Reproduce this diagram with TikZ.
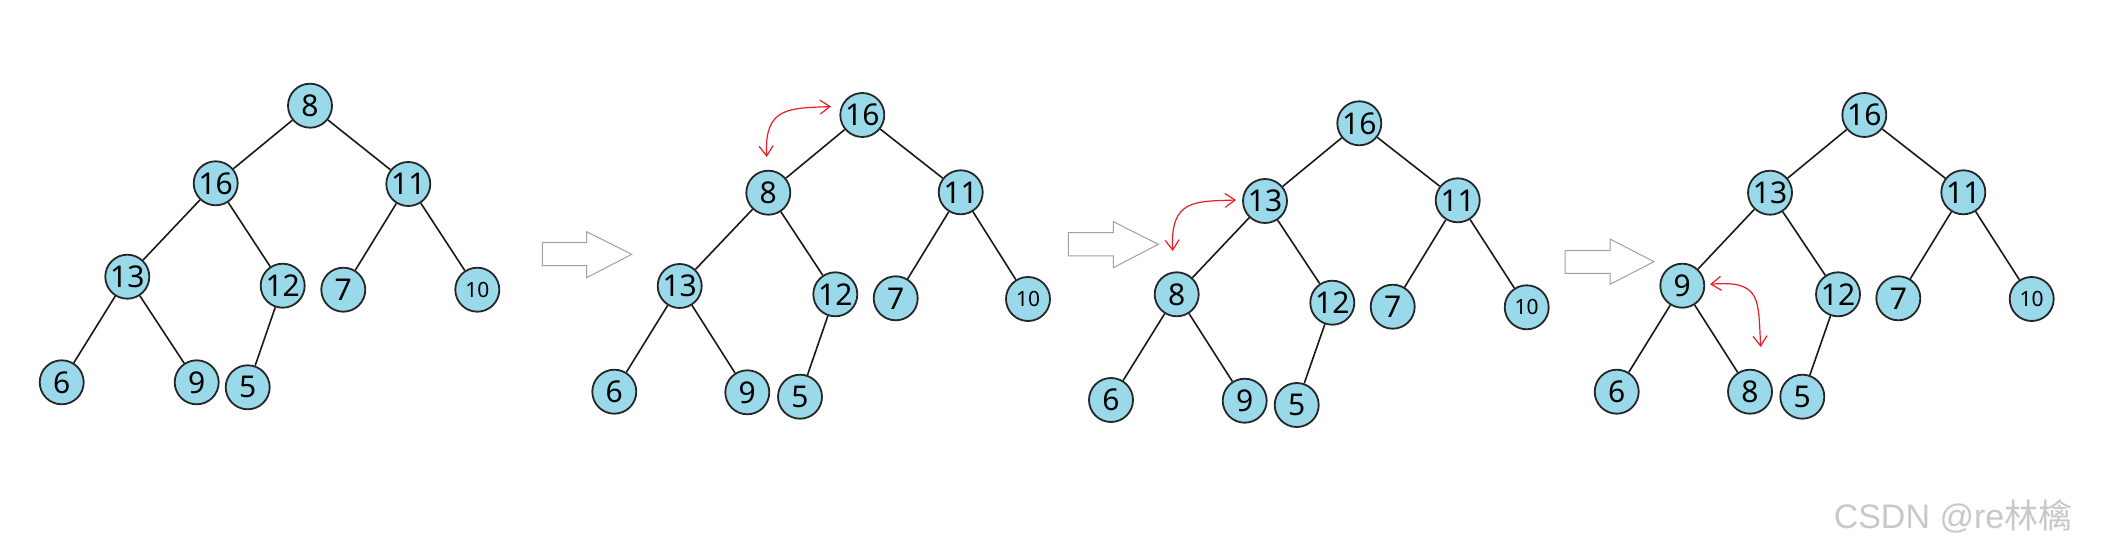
\documentclass[tikz,border=0pt]{standalone}
\usepackage{fontspec}
\setmainfont{Noto Sans}
\newfontfamily\wmfont{Liberation Sans}
\newfontfamily\cjk{Noto Sans CJK SC}
\usetikzlibrary{arrows.meta}
\definecolor{nodeblue}{RGB}{153,217,234}
\definecolor{swapred}{RGB}{237,28,36}
\definecolor{arrgray}{RGB}{160,160,160}
\definecolor{wmgray}{RGB}{200,200,200}
\tikzset{
  hnode/.style={circle,draw=black!85,fill=nodeblue,line width=0.9pt,minimum size=22pt,inner sep=0pt,font=\fontsize{15}{16}\selectfont},
  smallnum/.style={font=\fontsize{10.5}{12}\selectfont},
  edge/.style={line width=0.8pt,black!90},
  swaparrow/.style={draw=swapred,line width=0.6pt,{Straight Barb[length=5pt,width=7pt]}-{Straight Barb[length=5pt,width=7pt]}},
  blockarrow/.style={draw=arrgray,fill=white,line width=0.5pt,line join=miter}
}
\begin{document}
\begin{tikzpicture}[x=0.5pt,y=-0.5pt]
\useasboundingbox (0,0) rectangle (2102,555);
% ---------- tree 1 ----------
\node[hnode] (a8)  at (310,105.7) {8};
\node[hnode] (a16) at (215.7,183.3) {16};
\node[hnode] (a11) at (408.3,184) {11};
\node[hnode] (a13) at (127.3,276.7) {13};
\node[hnode] (a12) at (282.7,285.7) {12};
\node[hnode] (a7)  at (343.3,289.7) {7};
\node[hnode,smallnum] (a10) at (477.3,289.7) {10};
\node[hnode] (a6)  at (61.7,382.3) {6};
\node[hnode] (a9)  at (196.7,382.3) {9};
\node[hnode] (a5)  at (247.7,387.3) {5};
\draw[edge] (a8)--(a16) (a8)--(a11) (a16)--(a13) (a16)--(a12) (a11)--(a7) (a11)--(a10) (a13)--(a6) (a13)--(a9) (a12)--(a5);
% ---------- arrow 1 ----------
\draw[blockarrow] (542.3,242.7) -- (586.7,242.7) -- (586.7,231.7) -- (631.7,254.3) -- (586.7,277.7) -- (586.7,265.7) -- (542.3,265.7) -- cycle;
% ---------- tree 2 ----------
\node[hnode] (b16) at (862.3,115) {16};
\node[hnode] (b8)  at (768.3,192.7) {8};
\node[hnode] (b11) at (960.7,192.3) {11};
\node[hnode] (b13) at (679.7,286) {13};
\node[hnode] (b12) at (835.3,294.3) {12};
\node[hnode] (b7)  at (895.7,298.3) {7};
\node[hnode,smallnum] (b10) at (1028,299) {10};
\node[hnode] (b6)  at (614.3,391.7) {6};
\node[hnode] (b9)  at (747.3,392.3) {9};
\node[hnode] (b5)  at (800,396.7) {5};
\draw[edge] (b16)--(b8) (b16)--(b11) (b8)--(b13) (b8)--(b12) (b11)--(b7) (b11)--(b10) (b13)--(b6) (b13)--(b9) (b12)--(b5);
\coordinate (s1a) at (766.7,157);
\coordinate (s1b) at (831,106.5);
\draw[swaparrow] (s1a) .. controls (764,106) and (790,108.5) .. (s1b);
% ---------- arrow 2 ----------
\draw[blockarrow] (1068.3,232.7) -- (1113.3,232.7) -- (1113.3,221.7) -- (1158.3,244.3) -- (1113.3,267.7) -- (1113.3,256) -- (1068.3,256) -- cycle;
% ---------- tree 3 ----------
\node[hnode] (c16) at (1359.3,123.3) {16};
\node[hnode] (c13) at (1265,201) {13};
\node[hnode] (c11) at (1457.7,200.3) {11};
\node[hnode] (c8)  at (1176.7,294.3) {8};
\node[hnode] (c12) at (1332.3,302.7) {12};
\node[hnode] (c7)  at (1392.7,306.7) {7};
\node[hnode,smallnum] (c10) at (1526.7,307.3) {10};
\node[hnode] (c6)  at (1111,400) {6};
\node[hnode] (c9)  at (1244.7,400.7) {9};
\node[hnode] (c5)  at (1296.7,405) {5};
\draw[edge] (c16)--(c13) (c16)--(c11) (c13)--(c8) (c13)--(c12) (c11)--(c7) (c11)--(c10) (c8)--(c6) (c8)--(c9) (c12)--(c5);
\coordinate (s2a) at (1172.7,251);
\coordinate (s2b) at (1236,200);
\draw[swaparrow] (s2a) .. controls (1170,199) and (1195,201.5) .. (s2b);
% ---------- arrow 3 ----------
\draw[blockarrow] (1565,250.7) -- (1610,250.7) -- (1610,239) -- (1654,261.7) -- (1610,284.3) -- (1610,273.3) -- (1565,273.3) -- cycle;
% ---------- tree 4 ----------
\node[hnode] (d16) at (1864.3,115) {16};
\node[hnode] (d13) at (1770,192.7) {13};
\node[hnode] (d11) at (1963.3,192.3) {11};
\node[hnode] (d9)  at (1682.3,285.7) {9};
\node[hnode] (d12) at (1838,294.3) {12};
\node[hnode] (d7)  at (1898.3,298.3) {7};
\node[hnode,smallnum] (d10) at (2031.7,299) {10};
\node[hnode] (d6)  at (1616.7,391.7) {6};
\node[hnode] (d8)  at (1750,391.7) {8};
\node[hnode] (d5)  at (1802.3,396.7) {5};
\draw[edge] (d16)--(d13) (d16)--(d11) (d13)--(d9) (d13)--(d12) (d11)--(d7) (d11)--(d10) (d9)--(d6) (d9)--(d8) (d12)--(d5);
\coordinate (s3a) at (1710,284.3);
\coordinate (s3b) at (1760.7,347);
\draw[swaparrow] (s3a) .. controls (1762,280) and (1758,300) .. (s3b);
% ---------- watermark ----------
\node[anchor=center,text=wmgray,inner sep=0pt,font=\fontsize{17}{18}\selectfont] (wm) at (1953,516) {\wmfont CSDN @re\cjk 林檎};
\end{tikzpicture}
\end{document}
